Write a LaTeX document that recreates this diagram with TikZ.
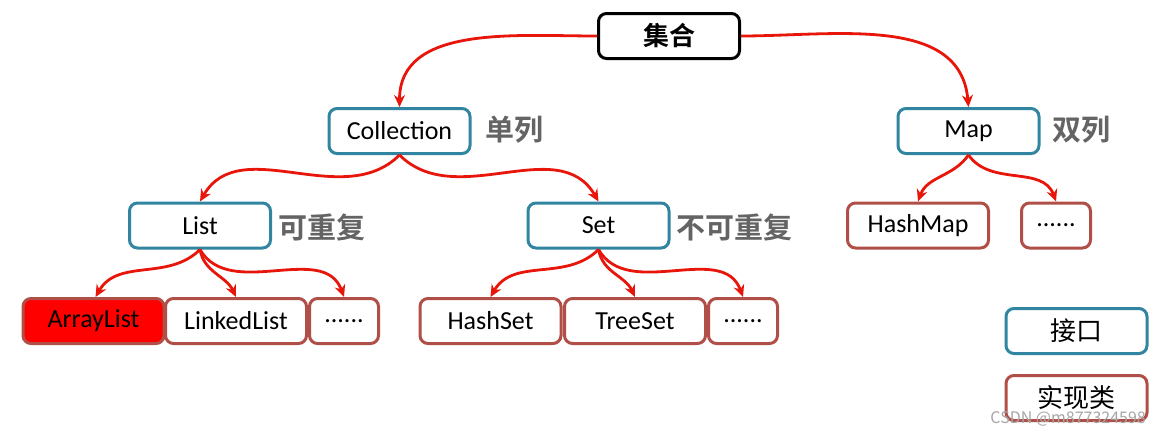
\documentclass[tikz,border=0pt]{standalone}
\usepackage{fontspec}
\setmainfont{Carlito}
\newfontfamily\cjk{Noto Sans CJK SC}
\newfontfamily\cjkb{Noto Sans CJK SC Bold}
\usetikzlibrary{arrows.meta}
\definecolor{ifblue}{RGB}{49,133,160}
\definecolor{clsred}{RGB}{176,78,72}
\definecolor{arr}{RGB}{232,22,10}
\definecolor{lbl}{RGB}{100,100,100}
\begin{document}
\begin{tikzpicture}[x=1pt,y=-1pt,
  box/.style={rounded corners=8pt,line width=3pt,minimum width=141pt,minimum height=45pt,inner sep=0pt,fill=white,font=\fontsize{26}{30}\selectfont},
  iface/.style={box,draw=ifblue},
  impl/.style={box,draw=clsred},
  small/.style={minimum width=69pt},
  lab/.style={font=\cjkb\fontsize{29}{32}\selectfont,text=lbl,anchor=west,inner sep=0pt},
  conn/.style={draw=arr,line width=2.8pt,-{Stealth[length=12pt,width=11pt]}}
]
\useasboundingbox (0,0) rectangle (1159,432);
\node[box,draw=black,font=\cjkb\fontsize{26}{30}\selectfont] (root) at (669,36) {集合};
\node[iface] (coll) at (399.5,131) {Collection};
\node[lab] at (485,130) {单列};
\node[iface] (map) at (968.5,131) {Map};
\node[lab] at (1052,130) {双列};
\node[iface] (list) at (200,225.5) {List};
\node[lab] at (278,227) {可重复};
\node[iface] (set) at (598.5,225.5) {Set};
\node[lab] at (676,227) {不可重复};
\node[impl] (hashmap) at (918,225.5) {HashMap};
\node[impl,small] (mapdots) at (1056,225.5) {......};
\node[impl,fill=red] (arraylist) at (93.5,321) {ArrayList};
\node[impl] (linkedlist) at (236,321) {LinkedList};
\node[impl,small] (listdots) at (344,321) {......};
\node[impl] (hashset) at (490.5,321) {HashSet};
\node[impl] (treeset) at (635,321) {TreeSet};
\node[impl,small] (setdots) at (743,321) {......};
\node[iface,font=\cjk\fontsize{26}{30}\selectfont] (legif) at (1076.5,331) {接口};
\node[impl,font=\cjk\fontsize{26}{30}\selectfont] (legimpl) at (1076.5,398) {实现类};
\node[text=gray!70,font=\cjk\fontsize{16}{19}\selectfont,anchor=east,inner sep=0pt] (wm) at (1146,419) {CSDN @m877324598};

\path[conn] (root.west) to[out=180,in=90] (coll.north);
\path[conn] (root.east) to[out=0,in=95] (map.north);
\path[conn] (coll.south) to[out=225,in=60] (list.north);
\path[conn] (coll.south) to[out=-45,in=120] (set.north);
\path[conn] (list.south) to[out=225,in=60] ([xshift=2pt]arraylist.north);
\path[conn] (list.south) to[out=-80,in=115] (linkedlist.north);
\path[conn] (list.south) to[out=-60,in=110] (listdots.north);
\path[conn] (set.south) to[out=225,in=60] (hashset.north);
\path[conn] (set.south) to[out=-80,in=115] (treeset.north);
\path[conn] (set.south) to[out=-60,in=110] (setdots.north);
\path[conn] (map.south) to[out=235,in=70] (hashmap.north);
\path[conn] (map.south) to[out=-55,in=110] (mapdots.north);
\end{tikzpicture}
\end{document}
